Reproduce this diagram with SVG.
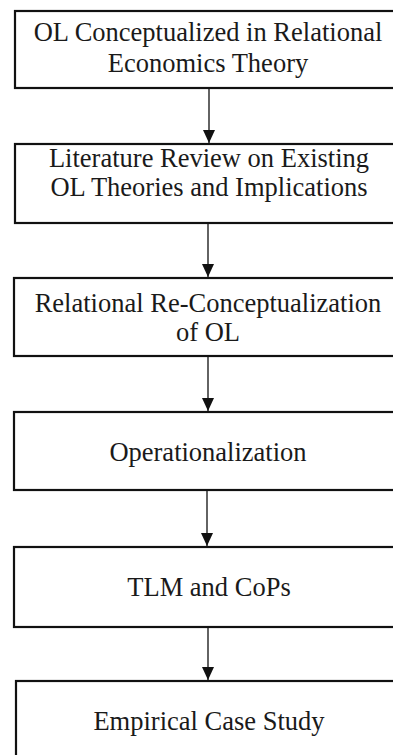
<svg xmlns="http://www.w3.org/2000/svg" width="393" height="755" viewBox="0 0 393 755">
  <style>
    .box { fill: #ffffff; stroke: #111111; stroke-width: 2.2; }
    .label { font-family: "Liberation Serif", "Times New Roman", serif; font-size: 26.5px; fill: #1a1a1a; text-anchor: middle; }
    .link { stroke: #222222; stroke-width: 1.4; fill: none; marker-end: url(#head); }
  </style>
  <defs>
    <!-- filled triangular arrowhead, tip at the end of the line -->
    <marker id="head" viewBox="0 0 13 12" refX="13" refY="6" markerWidth="13" markerHeight="12" markerUnits="userSpaceOnUse" orient="auto">
      <path d="M0,0 L13,6 L0,12 Z" fill="#111111"/>
    </marker>
  </defs>
  <rect width="393" height="755" fill="#ffffff"/>

  <g id="connectors">
    <line class="link" x1="209" y1="89" x2="209" y2="143"/>
    <line class="link" x1="208" y1="224" x2="208" y2="277"/>
    <line class="link" x1="208" y1="357" x2="208" y2="411"/>
    <line class="link" x1="207" y1="491" x2="207" y2="546"/>
    <line class="link" x1="208" y1="628" x2="208" y2="680"/>
  </g>

  <g id="node-relational-economics">
    <rect class="box" x="15" y="11" width="387" height="77"/>
    <text class="label" x="208" y="41">OL Conceptualized in Relational</text>
    <text class="label" x="208" y="72">Economics Theory</text>
  </g>

  <g id="node-literature-review">
    <rect class="box" x="15" y="144" width="387" height="79"/>
    <text class="label" x="209" y="167">Literature Review on Existing</text>
    <text class="label" x="209" y="196">OL Theories and Implications</text>
  </g>

  <g id="node-reconceptualization">
    <rect class="box" x="14" y="278" width="388" height="78"/>
    <text class="label" x="208" y="312">Relational Re-Conceptualization</text>
    <text class="label" x="208" y="341">of OL</text>
  </g>

  <g id="node-operationalization">
    <rect class="box" x="14" y="412" width="388" height="78"/>
    <text class="label" x="208" y="461">Operationalization</text>
  </g>

  <g id="node-tlm-cops">
    <rect class="box" x="14" y="547" width="388" height="80"/>
    <text class="label" x="209" y="596">TLM and CoPs</text>
  </g>

  <g id="node-case-study">
    <rect class="box" x="16" y="681" width="386" height="90"/>
    <text class="label" x="209" y="730">Empirical Case Study</text>
  </g>
</svg>
